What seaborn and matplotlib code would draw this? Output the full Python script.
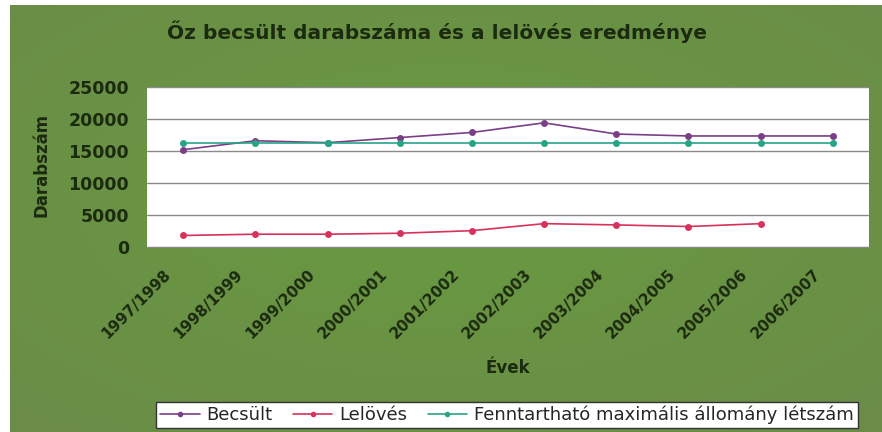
import numpy as np
import pandas as pd
import matplotlib
matplotlib.use("Agg")
import matplotlib.pyplot as plt
from matplotlib.colors import LinearSegmentedColormap
from matplotlib.transforms import ScaledTranslation
import seaborn as sns

# data
evek = ['1997/1998', '1998/1999', '1999/2000', '2000/2001', '2001/2002',
        '2002/2003', '2003/2004', '2004/2005', '2005/2006', '2006/2007']
becsult = [15200, 16600, 16300, 17100, 17900, 19400, 17650, 17350, 17350, 17350]
lelotes = [1800, 2000, 2000, 2150, 2550, 3650, 3450, 3200, 3650, np.nan]
fenntarthato = [16300, 16300, 16300, 16300, 16300, 16300, 16300, 16300, 16300, 16300]

series_names = ['Becsült', 'Lelövés', 'Fenntartható maximális állomány létszám']
colors = ['#7a3f86', '#d8315b', '#27a487']

df = pd.DataFrame({
    'Évek': evek * 3,
    'Darabszám': becsult + lelotes + fenntarthato,
    'Sorozat': [s for s in series_names for _ in evek],
})
df['x'] = list(range(len(evek))) * 3

sns.set_style("white")
plt.rcParams['font.family'] = ['DejaVu Sans']
txt = '#1c2a10'

fig = plt.figure(figsize=(8.82, 4.32), dpi=100, facecolor='white')

# green background, slightly brighter in the middle (white strip left/top)
bg_ax = fig.add_axes([10 / 882, 0, 1 - 10 / 882, 1 - 5 / 432], zorder=-5)
yy, xx = np.mgrid[0:1:200j, 0:1:400j]
r = np.sqrt(((xx - 0.5) / 0.75) ** 2 + ((yy - 0.45) / 0.75) ** 2)
green = LinearSegmentedColormap.from_list('g', ['#689a40', '#6b8c48'])
bg_ax.imshow(np.clip(r, 0, 1), cmap=green, aspect='auto', extent=(0, 1, 0, 1))
bg_ax.axis('off')

ax = fig.add_axes([147 / 882, 1 - 247 / 432, 722 / 882, 160 / 432])
ax.set_facecolor('white')

sns.lineplot(data=df, x='x', y='Darabszám', hue='Sorozat', hue_order=series_names,
             palette=colors, marker='o', markersize=5, markeredgewidth=0,
             linewidth=1.2, ax=ax, legend=True)

ax.set_xlim(-0.5, len(evek) - 0.5)
ax.set_ylim(0, 25000)
ax.set_yticks(range(0, 25001, 5000))
ax.yaxis.grid(True, color='#8a8a8a', linewidth=1)
ax.set_xticks(np.arange(-0.5, len(evek), 1), minor=True)
ax.set_xticks(range(len(evek)))
ax.tick_params(axis='x', which='major', length=0, pad=18)
ax.tick_params(axis='x', which='minor', length=4, color='#555555', direction='out')
ax.tick_params(axis='y', length=0, labelsize=12.5, labelcolor=txt, pad=13)
ax.set_xticklabels(evek, rotation=45, ha='right', va='center', rotation_mode='anchor',
                   fontsize=11, fontweight='bold', color=txt)
# nudge rotated labels left so they end just before the category point
shift = ScaledTranslation(-0.15, 0, fig.dpi_scale_trans)
for lbl in ax.get_xticklabels():
    lbl.set_transform(lbl.get_transform() + shift)
for lbl in ax.get_yticklabels():
    lbl.set_fontweight('bold')
for s in ['top', 'right', 'left']:
    ax.spines[s].set_visible(False)
ax.spines['bottom'].set_color('#888888')

ax.set_xlabel('Évek', fontsize=12, fontweight='bold', color=txt)
ax.xaxis.set_label_coords(508 / 882, 1 - 359 / 432, transform=fig.transFigure)
ax.set_ylabel('Darabszám', fontsize=12, fontweight='bold', color=txt)
ax.yaxis.set_label_coords(50 / 882, 1 - 165 / 432, transform=fig.transFigure)

fig.text(437 / 882, 1 - 32 / 432, 'Őz becsült darabszáma és a lelövés eredménye',
         ha='center', va='center', fontsize=14.5, fontweight='bold', color=txt)

handles, labels = ax.get_legend_handles_labels()
ax.get_legend().remove()
leg = fig.legend(handles, labels, loc='upper center',
                 bbox_to_anchor=(507 / 882, 1 - 402 / 432), borderaxespad=0,
                 ncol=3, frameon=True, fancybox=False, fontsize=13, framealpha=1,
                 handlelength=2.2, handletextpad=0.4, columnspacing=1.1,
                 borderpad=0.2, markerscale=0.8)
leg.get_frame().set_edgecolor('#333333')
leg.get_frame().set_facecolor('white')

fig.savefig('out.png', dpi=100, facecolor='white')
